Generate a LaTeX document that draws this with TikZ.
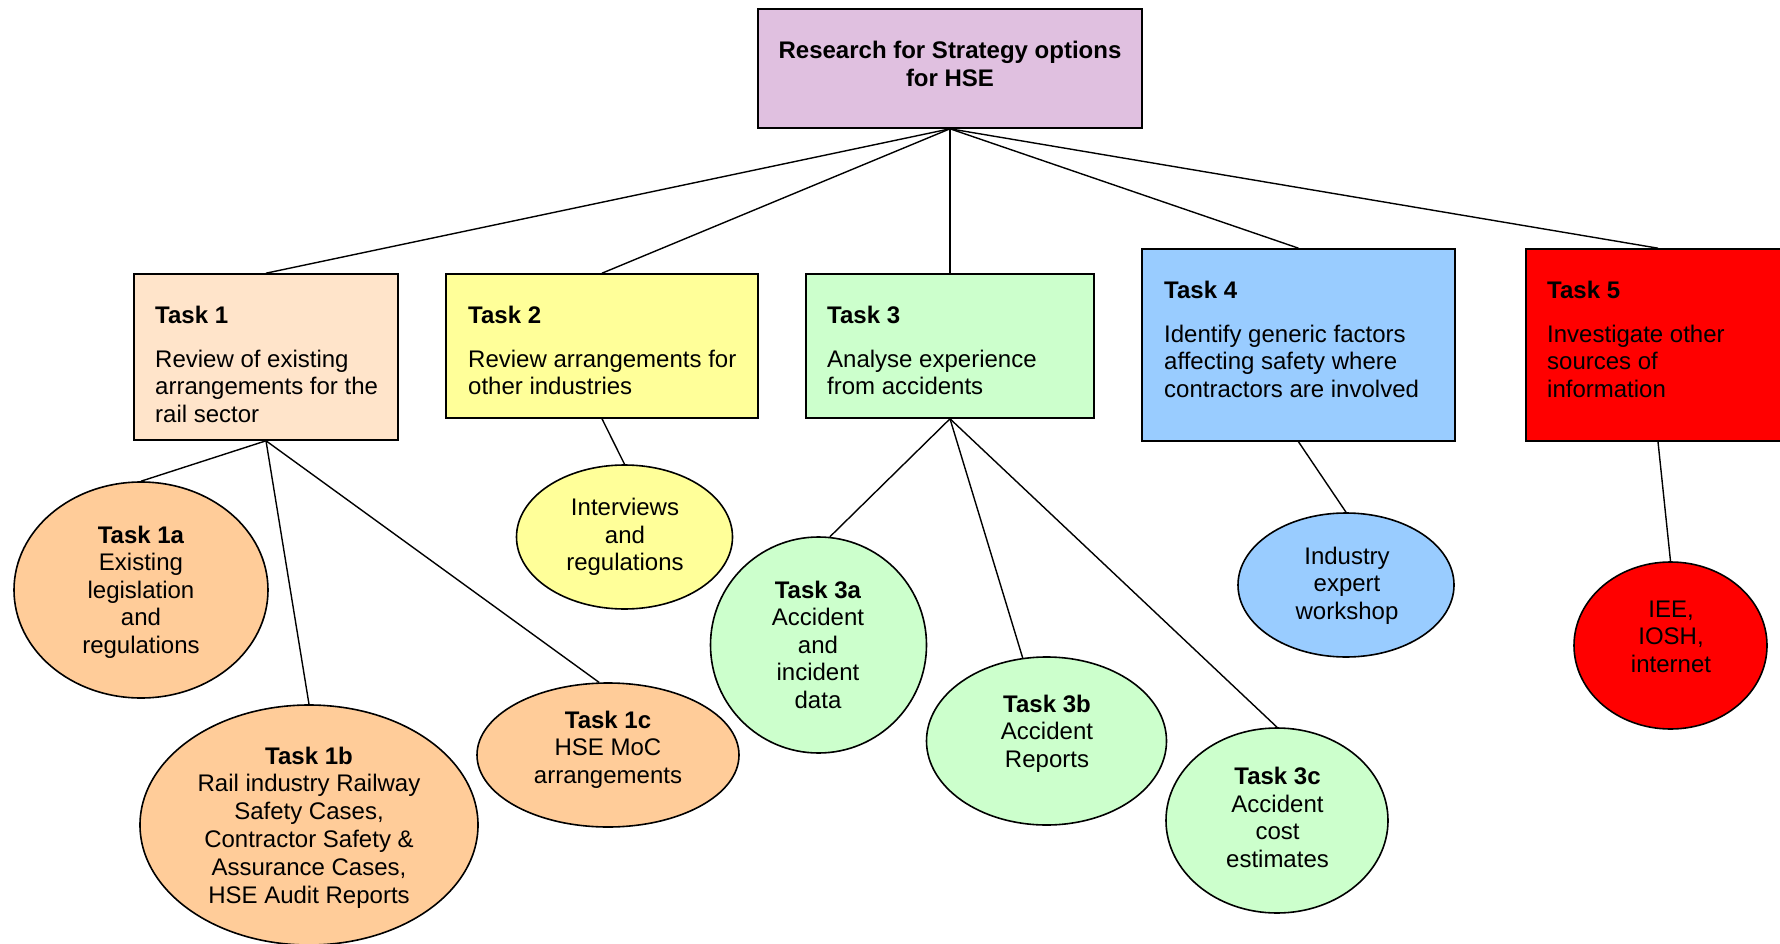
\documentclass[tikz,border=0pt]{standalone}
\usepackage{fontspec}
\setmainfont{Liberation Sans}
\usetikzlibrary{shapes.geometric}
\definecolor{rootfill}{RGB}{224,192,224}
\definecolor{onebox}{RGB}{255,228,202}
\definecolor{oneell}{RGB}{255,204,153}
\definecolor{twofill}{RGB}{255,255,153}
\definecolor{threefill}{RGB}{204,255,204}
\definecolor{fourfill}{RGB}{153,204,255}
\definecolor{fivefill}{RGB}{255,0,0}
\tikzset{
  box/.style={draw=black, line width=1.6pt, rectangle, inner sep=0pt},
  ell/.style={draw=black, line width=1.6pt, ellipse, inner sep=0pt},
  conn/.style={line width=1.4pt, black},
  txt/.style={inner sep=0pt, font=\fontsize{24}{27.5}\selectfont},
}
\begin{document}
\begin{tikzpicture}[x=1pt,y=-1pt]
\useasboundingbox (0,0) rectangle (1780,944);
\clip (0,0) rectangle (1780,944);
\fill[white] (0,0) rectangle (1780,944);

% boxes
\node[box, fill=rootfill, minimum width=384pt, minimum height=119pt] (root) at (950,68.5) {};
\node[box, fill=onebox, minimum width=264pt, minimum height=166pt] (t1) at (266,357) {};
\node[box, fill=twofill, minimum width=312pt, minimum height=144pt] (t2) at (602,346) {};
\node[box, fill=threefill, minimum width=288pt, minimum height=144pt] (t3) at (950,346) {};
\node[box, fill=fourfill, minimum width=313pt, minimum height=192pt] (t4) at (1298.5,345) {};
\node[box, fill=fivefill, minimum width=264pt, minimum height=192pt] (t5) at (1658,345) {};

% ellipses
\node[ell, fill=oneell, minimum width=254pt, minimum height=216pt] (e1a) at (141,590) {};
\node[ell, fill=oneell, minimum width=338pt, minimum height=240pt] (e1b) at (309,825) {};
\node[ell, fill=oneell, minimum width=262pt, minimum height=144pt] (e1c) at (608,755) {};
\node[ell, fill=twofill, minimum width=216pt, minimum height=144pt] (e2) at (624.5,537) {};
\node[ell, fill=threefill, minimum width=216pt, minimum height=216pt] (e3a) at (818.5,645) {};
\node[ell, fill=threefill, minimum width=240pt, minimum height=168pt] (e3b) at (1046.5,741) {};
\node[ell, fill=threefill, minimum width=222pt, minimum height=185pt] (e3c) at (1277,820.5) {};
\node[ell, fill=fourfill, minimum width=216pt, minimum height=144pt] (e4) at (1346,585) {};
\node[ell, fill=fivefill, minimum width=193pt, minimum height=167pt] (e5) at (1670.5,645.5) {};

% connectors
\draw[conn] (root.south) -- (t1.north);
\draw[conn] (root.south) -- (t2.north);
\draw[conn] (root.south) -- (t3.north);
\draw[conn] (root.south) -- (t4.north);
\draw[conn] (root.south) -- (t5.north);
\draw[conn] (t1.south) -- (e1a.north);
\draw[conn] (t1.south) -- (e1b.north);
\draw[conn] (t1.south) -- (e1c.97);
\draw[conn] (t2.south) -- (e2.north);
\draw[conn] (t3.south) -- (e3a.84);
\draw[conn] (t3.south) -- (e3b.106);
\draw[conn] (t3.south) -- (e3c.north);
\draw[conn] (t4.south) -- (e4.north);
\draw[conn] (t5.south) -- (e5.north);

% box texts
\node[txt, align=center, font=\fontsize{24}{28}\bfseries] (roottext) at (950,66.5) {\strut Research for Strategy options\\for HSE\strut};
\node[txt, align=left, anchor=west] (t1text) at (155,367) {\strut\textbf{Task 1}\\[16.5pt]Review of existing\\arrangements for the\\rail sector\strut};
\node[txt, align=left, anchor=west] (t2text) at (468,353.3) {\strut\textbf{Task 2}\\[16.5pt]Review arrangements for\\other industries\strut};
\node[txt, align=left, anchor=west] (t3text) at (827,353.3) {\strut\textbf{Task 3}\\[16.5pt]Analyse experience\\from accidents\strut};
\node[txt, align=left, anchor=west] (t4text) at (1164,342) {\strut\textbf{Task 4}\\[16.5pt]Identify generic factors\\affecting safety where\\contractors are involved\strut};
\node[txt, align=left, anchor=west] (t5text) at (1547,342) {\strut\textbf{Task 5}\\[16.5pt]Investigate other\\sources of\\information\strut};

% ellipse texts
\node[txt, align=center] (e1atext) at (141,592.5) {\strut\textbf{Task 1a}\\Existing\\legislation\\and\\regulations\strut};
\node[txt, align=center, font=\fontsize{24}{27.8}\selectfont] (e1btext) at (309,828) {\strut\textbf{Task 1b}\\Rail industry Railway\\Safety Cases,\\Contractor Safety \&\\Assurance Cases,\\HSE Audit Reports\strut};
\node[txt, align=center] (e1ctext) at (608,750) {\strut\textbf{Task 1c}\\HSE MoC\\arrangements\strut};
\node[txt, align=center] (e2text) at (625,537.5) {\strut Interviews\\and\\regulations\strut};
\node[txt, align=center] (e3atext) at (818,647.5) {\strut\textbf{Task 3a}\\Accident\\and\\incident\\data\strut};
\node[txt, align=center] (e3btext) at (1047,734) {\strut\textbf{Task 3b}\\Accident\\Reports\strut};
\node[txt, align=center] (e3ctext) at (1277.5,820.5) {\strut\textbf{Task 3c}\\Accident\\cost\\estimates\strut};
\node[txt, align=center] (e4text) at (1347,586) {\strut Industry\\expert\\workshop\strut};
\node[txt, align=center] (e5text) at (1671,639) {\strut IEE,\\IOSH,\\internet\strut};
\end{tikzpicture}
\end{document}
